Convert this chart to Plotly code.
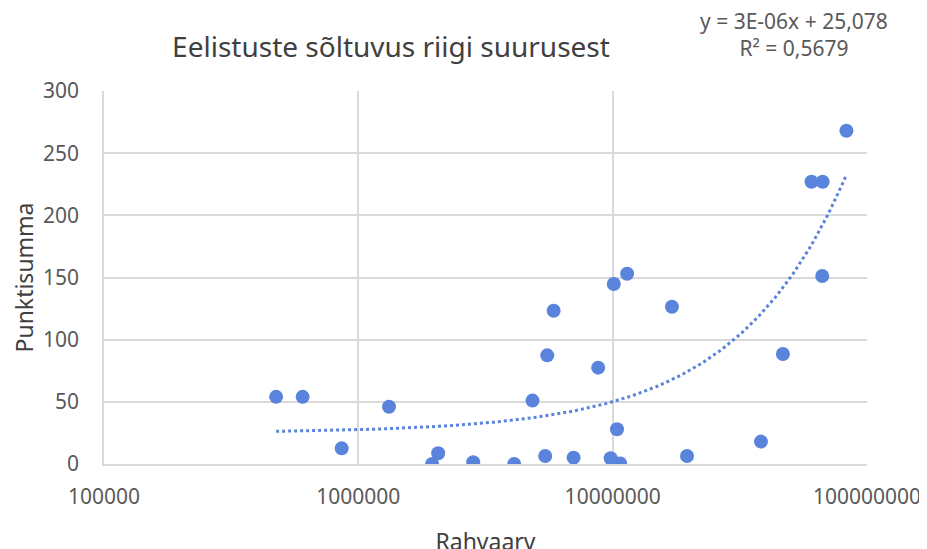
import numpy as np
import plotly.graph_objects as go

# Data (population, points)
population = [475e3, 604e3, 860e3, 1.32e6, 1.95e6, 2.06e6, 2.83e6, 4.1e6, 4.84e6,
              5.43e6, 5.53e6, 5.86e6, 7.02e6, 8.77e6, 9.82e6, 10.1e6, 10.4e6, 10.7e6,
              11.4e6, 17.1e6, 19.6e6, 38.3e6, 46.7e6, 60.5e6, 66.9e6, 66.7e6, 83e6]
points = [54, 54, 12.6, 46, 0, 8.6, 1.4, 0, 51,
          6.4, 87.4, 123.3, 5.1, 77.5, 4.6, 144.8, 27.9, 0.5,
          153, 126.5, 6.4, 18, 88.5, 227, 227, 151.2, 268]

trend_slope = 2.5e-6
trend_intercept = 25.078

x_ticks = [1e5, 1e6, 1e7, 1e8]
x_tick_labels = ["100000", "1000000", "10000000", "100000000"]
y_ticks = [0, 50, 100, 150, 200, 250, 300]

blue = "#5A84DC"
grey = "#595959"
dark = "#404040"
font = "Noto Sans"

W, H = 927, 549
L, R, T, B = 96, 68, 83, 93  # page body has an 8px offset
pw, ph = W - L - R, H - T - B

trend_x = np.geomspace(min(population), max(population), 200)
trend_y = trend_slope * trend_x + trend_intercept

fig = go.Figure()
fig.add_trace(go.Scatter(x=population, y=points, mode="markers",
                         marker=dict(size=14, color=blue), showlegend=False))
fig.add_trace(go.Scatter(x=trend_x, y=trend_y, mode="lines",
                         line=dict(color=blue, width=3, dash="dot"), showlegend=False))

fig.update_layout(
    width=W, height=H,
    margin=dict(l=L, r=R, t=T, b=B, autoexpand=False),
    paper_bgcolor="white", plot_bgcolor="white",
    font=dict(family=font, color=grey),
    title=dict(text="Eelistuste sõltuvus riigi suurusest", x=383 / W, xanchor="center",
               xref="container", yref="container",
               y=1 - 39 / H, yanchor="middle",
               font=dict(size=28, color=dark, family=font)),
    xaxis=dict(type="log", range=[5, 8], tickvals=x_ticks, ticktext=x_tick_labels,
               automargin=False,
               showgrid=True, gridcolor="#D9D9D9", gridwidth=1.5,
               showline=True, linecolor="#D9D9D9", linewidth=1.5, mirror=False,
               zeroline=False, tickfont=dict(size=21, color=grey), ticks="",
               ticklabelstandoff=13,
               title=dict(text="Rahvaarv", font=dict(size=23, color=dark), standoff=28)),
    yaxis=dict(range=[0, 300], tickvals=y_ticks, showgrid=True, gridcolor="#D9D9D9",
               automargin=False,
               gridwidth=1.5, showline=True, linecolor="#D9D9D9", linewidth=1.5,
               zeroline=False, tickfont=dict(size=21, color=grey), ticks="",
               ticklabelstandoff=19,
               title=dict(text="Punktisumma", font=dict(size=23, color=dark), standoff=10)),
    annotations=[
        dict(text="y = 3E-06x + 25,078<br>R² = 0,5679", x=(786 - L) / pw,
             y=(H - B - 27) / ph,
             xref="paper", yref="paper", xanchor="center", yanchor="middle",
             showarrow=False, align="center",
             font=dict(size=21, color=grey, family=font)),
    ],
)

fig.write_html("out.html")
